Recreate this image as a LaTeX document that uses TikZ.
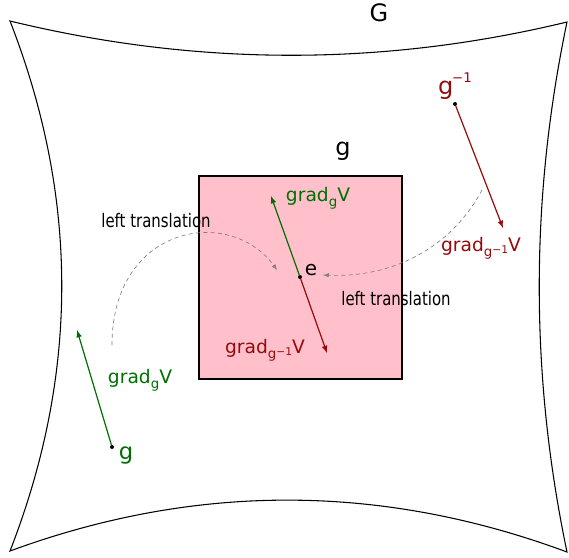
\documentclass[tikz,border=0pt]{standalone}
\usepackage{fontspec}
\setmainfont{DejaVu Sans}
\newfontfamily\squeezed{DejaVu Sans}[FakeStretch=0.8]
\definecolor{gradgreen}{RGB}{0,110,0}
\definecolor{gradred}{RGB}{150,10,10}
\definecolor{algpink}{RGB}{255,192,203}
\newcommand{\gradof}[1]{grad\raisebox{-0.45ex}{\fontsize{10}{10}\selectfont #1}V}
\newcommand{\ginvsub}{g\raisebox{0.35ex}{\fontsize{8}{8}\selectfont −1}}

\begin{document}
\begin{tikzpicture}[x=0.75pt,y=-0.75pt,>=latex,
  pt/.style={circle, fill=black, inner sep=0pt, minimum size=3pt},
  lbl/.style={font=\fontsize{14}{14}\selectfont, inner sep=1pt},
  big/.style={font=\fontsize{18}{18}\selectfont, inner sep=1pt},
  trans/.style={font=\squeezed\fontsize{14}{14}\selectfont, inner sep=1pt},
  vec/.style={->, line width=0.9pt},
  lt/.style={->, dashed, gray, line width=0.5pt, dash pattern=on 3pt off 2.5pt}]
\useasboundingbox (0,0) rectangle (569,558);

% the group G
\draw[line width=0.8pt] (10,21) .. controls (195,66) and (381,67) .. (567,22)
  .. controls (530,199) and (530,375) .. (567,552)
  .. controls (381,483) and (195,483) .. (10,551)
  .. controls (79,374) and (79,198) .. cycle;
\node[big] (G) at (379,13) {G};

% the Lie algebra g
\node[draw, fill=algpink, line width=1.2pt, inner sep=0pt, minimum size=152pt] (alg) at (300.5,277.5) {};
\node[big] (galg) at (343,151) {g};

% identity
\node[pt] (e) at (300,277) {};
\node[lbl, font=\fontsize{15}{15}\selectfont] (elbl) at (311,270) {e};
\coordinate (eup) at (271,196);
\coordinate (edown) at (327,353);
\draw[vec, gradgreen] (e) -- (eup);
\draw[vec, gradred] (e) -- (edown);
\node[lbl, text=gradgreen] (egrad) at (318,198) {\gradof{g}};
\node[lbl, text=gradred] (egradinv) at (265,350) {\gradof{\ginvsub}};

% g
\node[pt] (g) at (112,447) {};
\node[big, text=gradgreen, font=\fontsize{17}{17}\selectfont] (glbl) at (126,456) {g};
\coordinate (gtip) at (77,330);
\draw[vec, gradgreen] (g) -- (gtip);
\node[lbl, text=gradgreen] (ggrad) at (140,380) {\gradof{g}};

% g^-1
\node[pt] (ginv) at (455,104) {};
\node[big, text=gradred, font=\fontsize{18}{18}\selectfont] (ginvlbl) at (455,86) {g\kern-1pt\raisebox{0.9ex}{\fontsize{10}{10}\selectfont −1}};
\coordinate (ginvtip) at (503,228);
\draw[vec, gradred] (ginv) -- (ginvtip);
\node[lbl, text=gradred] (ginvgrad) at (481,248) {\gradof{\ginvsub}};

% left translations
\coordinate (lt1) at (112,345);
\coordinate (lt1end) at (277,270);
\coordinate (lt2) at (482,190);
\coordinate (lt2end) at (323,275);
\draw[lt] (lt1) .. controls (112,225) and (230,205) .. (lt1end);
\draw[lt] (lt2) .. controls (450,250) and (390,278) .. (lt2end);
\node[trans] (ltlbl1) at (156,221) {left translation};
\node[trans] (ltlbl2) at (396,299) {left translation};
\end{tikzpicture}
\end{document}
